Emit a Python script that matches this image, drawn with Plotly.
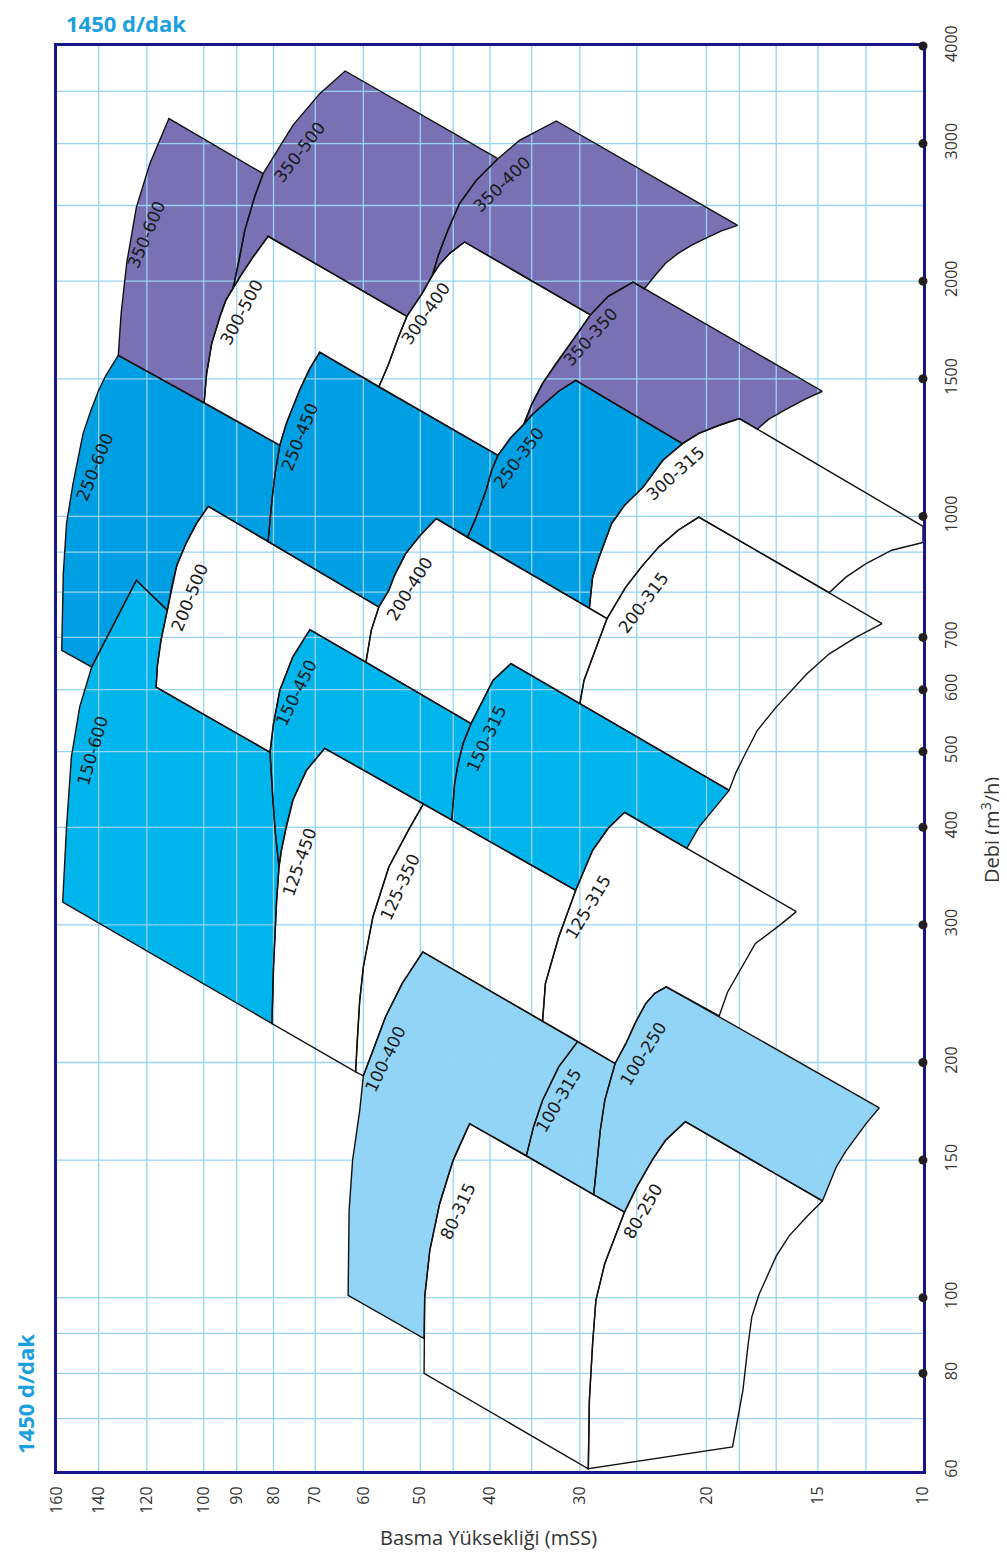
import numpy as np
import plotly.graph_objects as go

# ---------------- axes: ticks and grid ----------------
head_ticks = [160, 140, 120, 100, 90, 80, 70, 60, 50, 40, 30, 20, 14, 10]
head_tick_text = ["160", "140", "120", "100", "90", "80", "70", "60", "50", "40", "30", "20", "15", "10"]
flow_ticks = [60, 80, 100, 150, 200, 300, 400, 500, 600, 700, 1000, 1500, 2000, 3000, 4000]
head_grid = [140, 120, 100, 90, 80, 70, 60, 50, 45, 40, 35, 30, 25, 20, 18, 16, 14, 12]
flow_grid = [70, 80, 90, 100, 150, 200, 300, 400, 500, 600, 700, 800, 900, 1000, 1500, 2000, 2500, 3000, 3500]

# ---------------- boundary curves (head mSS, flow m3/h) ----------------
c_350_600_max = [(131.5, 1607), (130.3, 1819), (128.0, 2109), (124.1, 2486), (118.8, 2831), (111.8, 3230)]
c_350_500_max_a = [(63.6, 3716), (69.0, 3476), (75.2, 3166), (80.0, 2884), (82.7, 2746)]
c_350_500_max_b = [(82.7, 2746), (85.0, 2563), (87.7, 2323), (89.3, 2127), (90.3, 2029), (91.1, 1958)]
c_300_500_max_a = [(81.4, 2283), (85.4, 2148), (88.8, 2035), (91.1, 1958)]
c_300_500_max_b = [(91.1, 1958), (93.2, 1890), (95.0, 1800), (97.5, 1664), (99.1, 1523), (99.9, 1398)]
c_350_400_max_a = [(32.35, 3207), (36.4, 3029), (39.0, 2870)]
c_350_400_max_b = [(39.0, 2870), (41.8, 2692), (44.1, 2514), (45.8, 2323), (47.2, 2158), (48.1, 2035)]
c_300_400_max_a = [(43.4, 2245), (45.5, 2171), (47.0, 2102), (48.1, 2035)]
c_300_400_max_b = [(48.1, 2035), (49.7, 1930), (52.2, 1803)]
c_300_400_max_c = [(52.2, 1803), (53.7, 1690), (55.3, 1569), (57.1, 1464)]
c_350_400_min = [(18.1, 2358), (19.06, 2320), (20.0, 2272), (21.0, 2223), (21.9, 2171), (22.8, 2109), (23.6, 2032), (24.4, 1956)]
c_350_350_max_a = [(25.3, 1995), (27.4, 1913), (29.0, 1811)]
c_350_350_max_b = [(29.0, 1811), (30.7, 1680), (32.4, 1569), (33.8, 1480), (35.0, 1391), (35.9, 1312)]
c_250_350_max_a = [(30.4, 1493), (32.1, 1446), (33.6, 1395), (34.9, 1351), (35.9, 1312)]
c_250_350_max_b = [(35.9, 1312), (37.4, 1262), (39.0, 1197)]
c_250_350_max_c = [(39.0, 1197), (39.8, 1145), (40.5, 1080), (41.8, 998), (43.0, 940)]
c_350_350_min = [(13.8, 1446), (14.6, 1412), (15.6, 1367), (16.4, 1331), (17.0, 1293)]
c_300_315_max_a = [(18.0, 1334), (19.2, 1308), (20.5, 1277), (21.6, 1239)]
c_300_315_max_b = [(21.6, 1239), (23.0, 1180), (24.5, 1090), (26.0, 1033), (27.1, 979), (28.2, 887), (28.8, 836), (29.1, 763)]
c_300_315_min = [(10.0, 926), (11.05, 905), (12.0, 870), (12.8, 836), (13.5, 799)]
corner_300_315 = [(10.0, 971)]
c_200_315_max_a = [(20.5, 998), (21.9, 960), (23.3, 914), (24.6, 863), (25.9, 812), (27.5, 740)]
c_200_315_max_b = [(27.5, 740), (28.8, 661), (29.6, 617), (30.0, 576)]
c_200_315_min = [(11.4, 729), (12.4, 700), (13.5, 667), (14.5, 629), (16.0, 570), (17.0, 532), (17.7, 495), (18.2, 470), (18.6, 446)]
c_150_315_min = [(18.6, 446), (19.6, 421), (20.5, 400), (21.3, 376)]
c_125_315_min = [(15.0, 312), (15.8, 300), (17.1, 284), (18.0, 262), (18.7, 246), (19.2, 229.5)]
c_100_250_min = [(11.5, 175), (12.0, 167), (12.8, 154), (13.2, 147), (13.8, 133)]
c_80_250_min = [(13.8, 133), (14.5, 127), (15.35, 120), (16.0, 113), (16.9, 101), (17.3, 94.5), (17.5, 87.3), (17.8, 76.1), (18.4, 64.4)]
c_80_250_max_a = [(21.4, 168), (22.8, 159), (23.8, 150), (25.0, 138.6), (26.0, 128.7)]
c_80_250_max_b = [(26.0, 128.7), (27.7, 110.6), (28.5, 99.2), (28.8, 87.3), (29.1, 73.9), (29.2, 60.4)]
c_100_250_max_a = [(22.75, 250), (23.6, 245.2), (24.3, 237.9), (25.1, 225.1), (25.9, 211.4), (26.8, 199.4)]
c_100_250_max_b = [(26.8, 199.4), (27.7, 178.9), (28.1, 163.8), (28.4, 150), (28.7, 135.4)]
c_100_315_max = [(30.2, 212.8), (32.1, 197.4), (33.8, 178.9), (34.8, 165.4), (35.6, 152)]
c_125_315_max_a = [(26.0, 418), (27.4, 398.8), (28.8, 373.8), (30.4, 332.2)]
c_125_315_max_b = [(30.4, 332.2), (32.1, 289.5), (33.5, 252.3), (33.8, 225.8)]
c_150_315_max_a = [(37.4, 648), (39.6, 617), (41.6, 564.6), (42.5, 542.9)]
c_150_315_max_b = [(42.5, 542.9), (43.6, 511.9), (44.3, 482.6), (44.8, 454.9), (45.2, 408.7)]
c_200_400_max_a = [(47.5, 993.4), (50.0, 945.7), (52.4, 896), (54.3, 840.4), (55.3, 804), (57.1, 765.6)]
c_200_400_max_b = [(57.1, 765.6), (58.5, 714.6), (59.5, 650.7)]
c_250_450_max_a = [(69.0, 1622), (71.2, 1547), (73.6, 1450), (76.8, 1314), (78.4, 1233)]
c_250_450_max_b = [(78.4, 1233), (79.6, 1134), (80.4, 1048.5), (81.4, 929.2)]
c_150_450_max = [(71.2, 716.1), (75.2, 661), (78.4, 599), (80.0, 542.9), (80.9, 498.9)]
c_150_600_min = [(80.9, 498.9), (80.35, 446.1), (79.6, 396.5), (78.6, 355.8)]
c_125_450_max_a = [(67.9, 504.8), (72.0, 473.1), (75.2, 433.1), (76.8, 400.3), (78.0, 373.8), (78.6, 355.8)]
c_125_450_max_b = [(78.6, 355.8), (79.2, 322.5), (80.0, 265.0), (80.4, 224.3)]
c_150_600_max_a = [(157.1, 320.9), (155.2, 400.3), (152.8, 492.1), (148.8, 570.2), (143.2, 641.6)]
c_150_600_max_b = [(143.2, 641.6), (139.3, 674.0), (131.7, 743.4), (124.1, 828.3)]
c_250_600_max = [(131.5, 1607), (136.8, 1515.5), (140.0, 1450), (143.5, 1367), (147.2, 1276.3), (152.0, 1101.4), (155.2, 979), (156.8, 844.8), (157.6, 674.0)]
c_200_500_max_a = [(98.6, 1030), (102.4, 979), (105.9, 922.7), (109.0, 866), (110.6, 820.4), (112.4, 758.2)]
c_200_500_max_b = [(112.4, 758.2), (114.7, 693.8), (116.0, 644.9), (116.5, 604.8)]
c_125_350_max = [(49.5, 428.5), (51.8, 398.4), (55.3, 355.8), (58.2, 307.1), (60.0, 265.0), (60.7, 240.2), (61.2, 213.5), (61.5, 194.6)]
c_100_400_max_a = [(49.6, 277.0), (53.0, 252.3), (55.9, 228.7), (58.5, 204.3), (60.0, 192.3)]
c_100_400_max_b = [(60.0, 192.3), (60.7, 173.7), (62.1, 150), (62.8, 129.35), (63.0, 100.7)]
c_80_315_max_a = [(42.7, 167), (45.0, 150), (47.0, 131.9), (48.5, 115.0), (49.3, 100.2), (49.4, 88.65)]
c_80_315_max_b = [(49.4, 88.65), (49.4, 80.0)]

# ---------------- region labels (head, flow, angle) ----------------
label_names = ["350-600", "350-500", "300-500", "350-400", "300-400", "350-350",
               "250-600", "250-450", "200-500", "150-450", "150-600", "250-350",
               "300-315", "200-400", "200-315", "150-315", "125-450", "125-350",
               "125-315", "100-400", "100-315", "100-250", "80-315", "80-250"]
label_head = [120.0, 73.6, 88.6, 38.5, 49.1, 29.0, 141.6, 73.6, 104.8, 74.4, 142.6, 36.5,
              22.06, 51.8, 24.5, 40.4, 73.6, 53.3, 29.2, 55.9, 32.1, 24.5, 44.3, 24.5]
label_flow = [2296, 2927, 1826, 2667, 1821, 1697, 1155, 1264, 787, 594, 502, 1189,
              1135, 808, 775, 520, 361, 335, 316, 202, 179, 205, 129, 129]
label_angle = [-67, -52, -62, -44, -55, -48, -68, -68, -68, -64, -74, -53,
               -42, -58, -53, -65, -71, -65, -59, -64, -59, -58, -65, -60]


def R(c):
    return c[::-1]


PURPLE = "#7a70b4"
BLUE = "#009fe3"
CYAN = "#00b5ec"
LIGHT = "#92d4f6"
WHITE = "#ffffff"

regions = [
    ("350-600", PURPLE, c_350_600_max + c_350_500_max_b + c_300_500_max_b),
    ("350-500", PURPLE, c_350_400_max_b + c_300_400_max_b + c_300_500_max_a + R(c_350_500_max_b) + R(c_350_500_max_a)),
    ("350-400", PURPLE, c_350_400_min + c_350_350_max_a + c_300_400_max_a + R(c_350_400_max_b) + R(c_350_400_max_a)),
    ("350-350", PURPLE, c_350_350_min + c_300_315_max_a + c_250_350_max_a + R(c_350_350_max_b) + R(c_350_350_max_a)),
    ("300-500", WHITE, c_300_400_max_c + c_250_450_max_a + R(c_300_500_max_b) + R(c_300_500_max_a)),
    ("300-400", WHITE, c_350_350_max_b + c_250_350_max_b + R(c_300_400_max_c) + R(c_300_400_max_b) + R(c_300_400_max_a)),
    ("300-315", WHITE, corner_300_315 + c_300_315_min + c_200_315_max_a + R(c_300_315_max_b) + R(c_300_315_max_a)),
    ("250-600", BLUE, c_250_450_max_b + c_200_500_max_a + R(c_150_600_max_b) + R(c_250_600_max)),
    ("250-450", BLUE, c_250_350_max_c + c_200_400_max_a + R(c_250_450_max_b) + R(c_250_450_max_a)),
    ("250-350", BLUE, c_300_315_max_b + R(c_250_350_max_c) + R(c_250_350_max_b) + R(c_250_350_max_a)),
    ("200-500", WHITE, c_200_400_max_b + c_150_450_max + R(c_200_500_max_b) + R(c_200_500_max_a)),
    ("200-400", WHITE, c_200_315_max_b + c_150_315_max_a + R(c_200_400_max_b) + R(c_200_400_max_a)),
    ("200-315", WHITE, c_200_315_min + R(c_200_315_max_b) + R(c_200_315_max_a)),
    ("150-600", CYAN, c_200_500_max_b + c_150_600_min + c_125_450_max_b + c_150_600_max_a + c_150_600_max_b),
    ("150-450", CYAN, c_150_315_max_b + c_125_450_max_a + R(c_150_600_min) + R(c_150_450_max)),
    ("150-315", CYAN, c_150_315_min + c_125_315_max_a + R(c_150_315_max_b) + R(c_150_315_max_a)),
    ("125-450", WHITE, c_125_350_max + R(c_125_450_max_b) + R(c_125_450_max_a)),
    ("125-350", WHITE, c_125_315_max_b + c_100_400_max_a + R(c_125_350_max)),
    ("125-315", WHITE, c_125_315_min + c_100_250_max_a + R(c_125_315_max_b) + R(c_125_315_max_a)),
    ("100-400", LIGHT, c_100_315_max + c_80_315_max_a + R(c_100_400_max_b) + R(c_100_400_max_a)),
    ("100-315", LIGHT, c_100_250_max_b + R(c_100_315_max)),
    ("100-250", LIGHT, c_100_250_min + c_80_250_max_a + R(c_100_250_max_b) + R(c_100_250_max_a)),
    ("80-315", WHITE, c_80_250_max_b + R(c_80_315_max_b) + R(c_80_315_max_a)),
    ("80-250", WHITE, c_80_250_min + R(c_80_250_max_b) + R(c_80_250_max_a)),
]

fig = go.Figure()

# fills
for name, col, poly in regions:
    xs = [p[0] for p in poly] + [poly[0][0]]
    ys = [p[1] for p in poly] + [poly[0][1]]
    fig.add_trace(go.Scatter(x=xs, y=ys, mode="lines", fill="toself", fillcolor=col,
                             line=dict(width=0, color=col), hoverinfo="skip", showlegend=False))

# grid lines (drawn above the coloured fills, as in the original)
gx, gy = [], []
for h in head_grid:
    gx += [h, h, None]
    gy += [60, 4000, None]
for q in flow_grid:
    gx += [160, 10, None]
    gy += [q, q, None]
fig.add_trace(go.Scatter(x=gx, y=gy, mode="lines", line=dict(color="#97d4f3", width=1.3),
                         hoverinfo="skip", showlegend=False))

# outlines
for name, col, poly in regions:
    xs = [p[0] for p in poly] + [poly[0][0]]
    ys = [p[1] for p in poly] + [poly[0][1]]
    fig.add_trace(go.Scatter(x=xs, y=ys, mode="lines", line=dict(width=1.4, color="#111111"),
                             hoverinfo="skip", showlegend=False))

# tick dots
fig.add_trace(go.Scatter(x=head_ticks, y=[60] * len(head_ticks), mode="markers",
                         marker=dict(size=9, color="#231f20"), cliponaxis=False,
                         hoverinfo="skip", showlegend=False))
fig.add_trace(go.Scatter(x=[10] * len(flow_ticks), y=flow_ticks, mode="markers",
                         marker=dict(size=9, color="#231f20"), cliponaxis=False,
                         hoverinfo="skip", showlegend=False))

# region labels
for t, h, q, a in zip(label_names, label_head, label_flow, label_angle):
    fig.add_annotation(x=np.log10(h), y=np.log10(q), xref="x", yref="y", text=t,
                       textangle=a, showarrow=False,
                       font=dict(family="DejaVu Sans", size=17, color="#1a1a1a"))

# titles (paper coords are relative to the plot area)
fig.add_annotation(x=(126 - 57) / 866, y=(1471 - 23) / 1425, xref="paper", yref="paper",
                   text="<b>1450 d/dak</b>", showarrow=False, xanchor="center", yanchor="middle",
                   font=dict(family="Open Sans", size=22, color="#1a9fe0"))
fig.add_annotation(x=(25 - 57) / 866, y=(1471 - 1394) / 1425, xref="paper", yref="paper",
                   text="<b>1450 d/dak</b>", textangle=-90, showarrow=False,
                   xanchor="center", yanchor="middle",
                   font=dict(family="Open Sans", size=22, color="#1a9fe0"))
fig.add_annotation(x=(488 - 57) / 866, y=(1471 - 1537) / 1425, xref="paper", yref="paper",
                   text="Basma Yüksekliği (mSS)", showarrow=False, xanchor="center", yanchor="middle",
                   font=dict(family="Open Sans", size=20, color="#333333"))
fig.add_annotation(x=(990 - 57) / 866, y=(1471 - 830) / 1425, xref="paper", yref="paper",
                   text="Debi (m<sup>3</sup>/h)", textangle=-90, showarrow=False,
                   xanchor="center", yanchor="middle",
                   font=dict(family="Open Sans", size=20, color="#333333"))

NAVY = "#16168a"
# the page body has an 8 px margin, so the figure is 8 px smaller and margins shifted
fig.update_layout(
    width=999, height=1550,
    margin=dict(l=49, r=84, t=38, b=87),
    paper_bgcolor="white", plot_bgcolor="white",
    hovermode=False, showlegend=False,
    xaxis=dict(type="log", range=[np.log10(160), np.log10(10)],
               tickvals=head_ticks, ticktext=head_tick_text, tickangle=-90,
               ticks="outside", ticklen=6, tickcolor="rgba(0,0,0,0)",
               tickfont=dict(family="Open Sans", size=16, color="#333333"),
               showgrid=False, zeroline=False,
               showline=True, mirror=True, linecolor=NAVY, linewidth=3,
               layer="below traces"),
    yaxis=dict(type="log", range=[np.log10(60), np.log10(4000)], side="right",
               tickvals=flow_ticks, ticktext=[str(v) for v in flow_ticks], tickangle=-90,
               ticks="outside", ticklen=12, tickcolor="rgba(0,0,0,0)",
               tickfont=dict(family="Open Sans", size=16, color="#333333"),
               showgrid=False, zeroline=False,
               showline=True, mirror=True, linecolor=NAVY, linewidth=3,
               layer="below traces"),
)

fig.write_html("out.html")
